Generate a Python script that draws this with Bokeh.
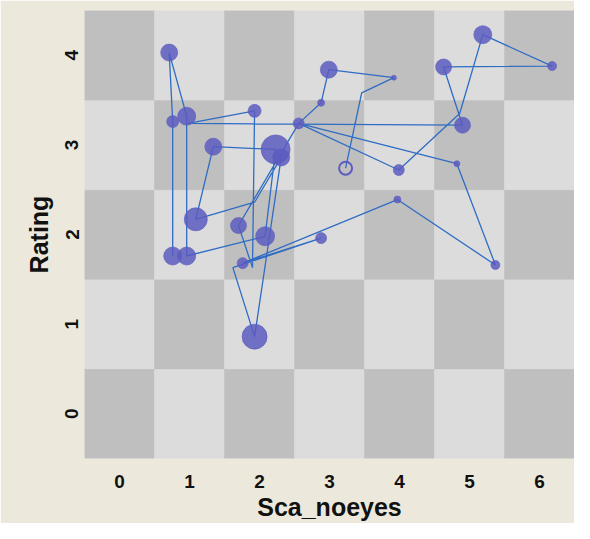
from bokeh.plotting import figure
from bokeh.models import Range1d, FixedTicker
from bokeh.embed import file_html
from bokeh.resources import INLINE

# ---- data ----
x_ticks = [0, 1, 2, 3, 4, 5, 6]
y_ticks = [0, 1, 2, 3, 4]

# path of observations (Sca_noeyes, Rating, marker size; size 0 = bend only, negative = open marker)
path_x = [0.76, 0.76, 0.71, 0.96, 0.96, 2.08, 2.23, 1.34, 1.09, 1.93, 2.31, 1.93,
          1.62, 2.88, 1.76, 3.97, 5.37, 4.82, 2.56, 3.99, 4.86, 5.19, 6.18, 4.63,
          4.90, 0.98, 1.93, 1.90, 1.70, 2.56, 2.88, 2.99, 3.92, 3.46, 3.23]
path_y = [1.76, 3.26, 4.03, 3.32, 1.76, 1.98, 2.95, 2.98, 2.17, 2.36, 2.86, 0.86,
          1.63, 1.96, 1.68, 2.39, 1.66, 2.79, 3.24, 2.72, 3.35, 4.23, 3.88, 3.87,
          3.22, 3.24, 3.38, 1.63, 2.10, 3.24, 3.47, 3.84, 3.75, 3.58, 2.74]
path_size = [18, 12, 17, 18, 18, 19, 29, 17, 23, 0, 17, 25,
             0, 11, 11, 7, 9, 6, 11, 11, 0, 18, 9, 16,
             16, 0, 13, 0, 16, 0, 7, 17, 5, 0, -13]

x_label = "Sca_noeyes"
y_label = "Rating"

# ---- figure ----
p = figure(width=574, height=523, output_backend="svg", toolbar_location=None,
           x_range=Range1d(-0.5, 6.5), y_range=Range1d(-0.5, 4.5),
           min_border_left=84, min_border_right=0, min_border_top=10, min_border_bottom=56)
p.border_fill_color = "#ece9dc"
p.outline_line_color = None
p.background_fill_color = "#dcdcdc"
p.xgrid.visible = False
p.ygrid.visible = False

# checkerboard background
cx, cy, cc = [], [], []
for xi in x_ticks:
    for yi in y_ticks:
        cx.append(xi)
        cy.append(yi)
        cc.append("#bfbfbf" if (xi + yi) % 2 == 0 else "#dcdcdc")
p.rect(x=cx, y=cy, width=1, height=1, fill_color=cc, line_color=cc, line_width=0.5)

# connecting line
p.line(path_x, path_y, line_color="#2f6cc4", line_width=1.3)

# filled markers
fx = [x for x, s in zip(path_x, path_size) if s > 0]
fy = [y for y, s in zip(path_y, path_size) if s > 0]
fs = [s for s in path_size if s > 0]
p.scatter(fx, fy, size=fs, fill_color="#5c5cc0", fill_alpha=0.85, line_color="#5c5cc0",
          line_alpha=0.6, line_width=1)
# open markers
ox = [x for x, s in zip(path_x, path_size) if s < 0]
oy = [y for y, s in zip(path_y, path_size) if s < 0]
osz = [-s for s in path_size if s < 0]
p.scatter(ox, oy, size=osz, fill_color=None, line_color="#5c5cc0", line_width=2)

for ax in (p.xaxis, p.yaxis):
    ax.axis_line_color = None
    ax.major_tick_line_color = None
    ax.minor_tick_line_color = None
    ax.major_label_text_font = "Liberation Sans"
    ax.major_label_text_font_style = "bold"
    ax.major_label_text_font_size = "19px"
    ax.major_label_text_color = "#111111"
    ax.axis_label_text_font = "Liberation Sans"
    ax.axis_label_text_font_style = "bold"
    ax.axis_label_text_font_size = "25px"
    ax.axis_label_text_color = "#111111"

p.xaxis.ticker = FixedTicker(ticks=x_ticks)
p.yaxis.ticker = FixedTicker(ticks=y_ticks)
p.xaxis.axis_label = x_label
p.yaxis.axis_label = y_label
p.xaxis.major_label_standoff = 10
p.xaxis.axis_label_standoff = 2
p.yaxis.major_label_orientation = "vertical"
p.yaxis.major_label_standoff = 0
p.yaxis.axis_label_standoff = 10

open("out.html", "w").write(file_html(p, INLINE))
